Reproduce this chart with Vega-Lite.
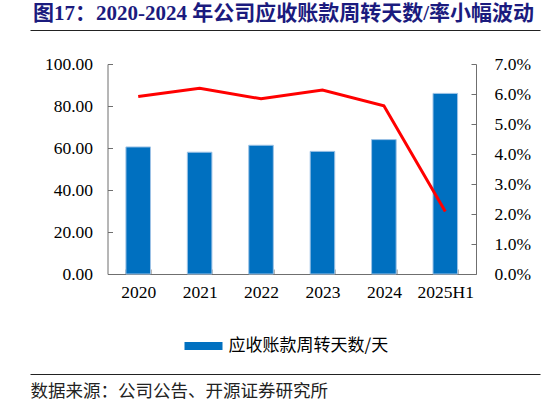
{
  "$schema": "https://vega.github.io/schema/vega-lite/v6.json",
  "background": "white",
  "autosize": {"type": "none"},
  "padding": {"left": 107.5, "top": 64, "right": 70, "bottom": 130},
  "width": 368.5,
  "height": 210,
  "title": {
    "text": "图17：2020-2024 年公司应收账款周转天数/率小幅波动",
    "anchor": "start",
    "frame": "group",
    "font": "Liberation Serif, Noto Sans CJK SC",
    "fontSize": 21,
    "fontWeight": "bold",
    "color": "#1B1B7E",
    "offset": 6,
    "dx": -74.5
  },
  "config": {
    "font": "Liberation Serif",
    "view": {"stroke": null},
    "axis": {
      "domainColor": "#6f6f6f",
      "tickColor": "#6f6f6f",
      "labelColor": "#000000",
      "labelFont": "Liberation Serif",
      "labelFontSize": 17.5,
      "labelOverlap": false,
      "grid": false
    }
  },
  "datasets": {
    "turnover": [
      {"period": "2020", "days": 60.5, "rate": 0.0592},
      {"period": "2021", "days": 58.0, "rate": 0.0619},
      {"period": "2022", "days": 61.3, "rate": 0.0584},
      {"period": "2023", "days": 58.4, "rate": 0.0613},
      {"period": "2024", "days": 64.0, "rate": 0.0561},
      {"period": "2025H1", "days": 86.0, "rate": 0.0208}
    ],
    "edges": [
      {"edge": 0},
      {"edge": 1}
    ]
  },
  "layer": [
    {
      "data": {"name": "turnover"},
      "encoding": {
        "x": {
          "field": "period",
          "type": "nominal",
          "sort": null,
          "scale": {"paddingInner": 0.6, "paddingOuter": 0.3},
          "axis": {
            "title": null,
            "labelAngle": 0,
            "tickBand": "extent",
            "tickSize": -5,
            "labelPadding": 14
          }
        }
      },
      "layer": [
        {
          "mark": {"type": "bar", "stroke": "#9DC3E6", "strokeWidth": 1},
          "encoding": {
            "y": {
              "field": "days",
              "type": "quantitative",
              "scale": {"domain": [0, 100]},
              "axis": {
                "format": ".2f",
                "values": [0, 20, 40, 60, 80, 100],
                "tickSize": -5,
                "labelPadding": 20,
                "title": null
              }
            },
            "fill": {
              "datum": "应收账款周转天数/天",
              "type": "nominal",
              "scale": {"range": ["#0070C0"]},
              "legend": {
                "orient": "none",
                "legendX": 77,
                "legendY": 263,
                "direction": "horizontal",
                "title": null,
                "padding": 0,
                "symbolType": "M-1,-0.21H1V0.21H-1Z",
                "symbolSize": 1444,
                "symbolStrokeWidth": 0,
                "labelFont": "Noto Sans CJK SC",
                "labelFontSize": 17,
                "labelColor": "#000000",
                "labelOffset": 6
              }
            }
          }
        },
        {
          "mark": {"type": "line", "color": "#FF0000", "strokeWidth": 3},
          "encoding": {
            "y": {
              "field": "rate",
              "type": "quantitative",
              "scale": {"domain": [0, 0.07]},
              "axis": {
                "orient": "right",
                "format": ".1%",
                "values": [0, 0.01, 0.02, 0.03, 0.04, 0.05, 0.06, 0.07],
                "tickSize": -5,
                "labelPadding": 23,
                "title": null
              }
            }
          }
        }
      ],
      "resolve": {"scale": {"y": "independent"}}
    },
    {
      "data": {"name": "edges"},
      "mark": {"type": "point", "opacity": 0},
      "encoding": {
        "x": {
          "field": "edge",
          "type": "quantitative",
          "scale": {"domain": [0, 1], "range": [-77.5, 432.5], "nice": false},
          "axis": {
            "orient": "top",
            "offset": 34,
            "domain": true,
            "domainColor": "#222222",
            "ticks": false,
            "labels": false,
            "title": null
          }
        }
      }
    },
    {
      "data": {"name": "edges"},
      "mark": {"type": "point", "opacity": 0},
      "encoding": {
        "x": {
          "field": "edge",
          "type": "quantitative",
          "scale": {"domain": [0, 1], "range": [-77.5, 432.5], "nice": false},
          "axis": {
            "orient": "bottom",
            "offset": 100,
            "domain": true,
            "domainColor": "#222222",
            "ticks": false,
            "labels": false,
            "title": "数据来源：公司公告、开源证券研究所",
            "titleAnchor": "start",
            "titleAlign": "left",
            "titleFont": "Noto Sans CJK SC",
            "titleFontSize": 17.5,
            "titleFontWeight": "normal",
            "titleColor": "#222222",
            "titlePadding": 8
          }
        }
      }
    }
  ],
  "resolve": {
    "scale": {"x": "independent", "y": "independent"},
    "axis": {"x": "independent"}
  }
}
